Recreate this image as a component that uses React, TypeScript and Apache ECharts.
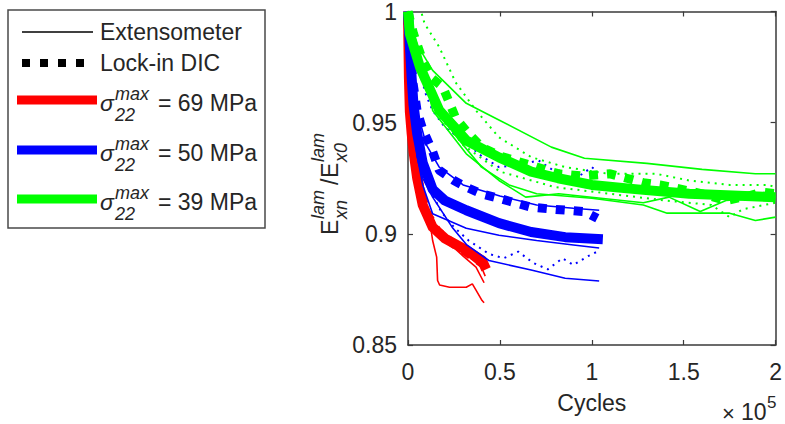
import React, { useEffect, useRef } from "react";
import * as echarts from "echarts";

// ---------- data (x in cycles, y = E_xn/E_x0) ----------
const xTicks = [0, 50000, 100000, 150000, 200000];
const yTicks = [0.85, 0.9, 0.95, 1];

// 69 MPa (red)
const redExtA = [[0, 1], [1500, 0.96], [4000, 0.935], [6500, 0.918], [11800, 0.906], [13400, 0.897], [15600, 0.8895], [16100, 0.879], [17200, 0.877], [22600, 0.876], [31700, 0.876], [35000, 0.8775], [37000, 0.8747], [40300, 0.87], [41400, 0.869]];
const redExtB = [[0, 0.995], [1500, 0.955], [4000, 0.932], [6500, 0.918], [10000, 0.91], [15000, 0.902], [22000, 0.896], [30000, 0.89], [37000, 0.885], [41400, 0.878]];
const redExtC = [[0, 0.99], [1000, 0.96], [3000, 0.94], [6000, 0.922], [9000, 0.91], [14000, 0.903], [20000, 0.9], [27000, 0.895], [34000, 0.889], [40000, 0.885], [42000, 0.881]];
const redThick = [[0, 1], [500, 0.97], [1000, 0.955], [2000, 0.945], [3000, 0.937], [5000, 0.925], [8000, 0.913], [13400, 0.903], [20000, 0.898], [31700, 0.8927], [40300, 0.888], [42500, 0.884]];
const redThickDic = [[0, 0.998], [800, 0.965], [2000, 0.947], [4000, 0.932], [7000, 0.918], [11000, 0.908], [16000, 0.901], [24000, 0.896], [33000, 0.891], [40000, 0.887], [42000, 0.8855]];

// 50 MPa (blue)
const blueExtA = [[0, 1], [2000, 0.97], [5000, 0.955], [10000, 0.94], [17000, 0.93], [30000, 0.922], [50000, 0.917], [70000, 0.913], [90000, 0.9115], [104000, 0.9106]];
const blueExtB = [[0, 0.99], [2000, 0.96], [5000, 0.935], [8000, 0.922], [13400, 0.909], [31700, 0.9025], [49500, 0.8994], [70000, 0.897], [90000, 0.895], [104000, 0.8936]];
const blueExtC = [[0, 0.98], [2000, 0.955], [5000, 0.935], [8000, 0.925], [13400, 0.9165], [24000, 0.903], [32000, 0.895], [44000, 0.888], [67000, 0.8837], [85500, 0.88], [104000, 0.8788]];
const blueDicA = [[0, 0.98], [3000, 0.975], [6500, 0.972], [10000, 0.962], [13400, 0.9555], [20000, 0.948], [31700, 0.9407], [40000, 0.935], [49500, 0.93], [60000, 0.931], [71000, 0.933], [80000, 0.928], [88700, 0.924], [95000, 0.927], [100000, 0.93], [103000, 0.928]];
const blueDicB = [[0, 0.985], [3000, 0.955], [7000, 0.935], [12000, 0.92], [18000, 0.91], [25000, 0.903], [33000, 0.897], [44000, 0.891], [52000, 0.889], [60000, 0.892], [68000, 0.887], [76000, 0.884], [84000, 0.889], [90000, 0.886], [98000, 0.89], [103000, 0.892]];
const blueThick = [[0, 1], [1000, 0.985], [2000, 0.97], [3000, 0.958], [5000, 0.945], [8000, 0.932], [13400, 0.92], [20000, 0.915], [31700, 0.9106], [49500, 0.9048], [67000, 0.9008], [85500, 0.8985], [106000, 0.8976]];
const blueThickDic = [[0, 1], [1000, 0.985], [2700, 0.968], [5000, 0.955], [8000, 0.947], [13400, 0.937], [17000, 0.9286], [25000, 0.924], [31700, 0.921], [40000, 0.918], [49500, 0.916], [58000, 0.914], [67000, 0.912], [80000, 0.911], [96000, 0.91], [103000, 0.907]];

// 39 MPa (green)
const greenExtA = [[0, 0.998], [5000, 0.985], [13400, 0.9735], [31700, 0.9587], [50000, 0.951], [78000, 0.939], [96000, 0.934], [130000, 0.9317], [160000, 0.929], [189000, 0.927], [200000, 0.927]];
const greenExtB = [[0, 1], [3000, 0.99], [8000, 0.975], [13400, 0.9555], [31700, 0.936], [49500, 0.924], [64000, 0.9165], [82000, 0.918], [128000, 0.914], [142000, 0.9165], [159000, 0.91], [173000, 0.915], [200000, 0.9165]];
const greenExtC = [[0, 1], [5000, 0.98], [13400, 0.96], [25000, 0.945], [40000, 0.93], [55000, 0.922], [70000, 0.918], [100000, 0.916], [128000, 0.913], [141000, 0.9093], [175000, 0.9093], [189000, 0.906], [200000, 0.9075]];
const greenDicA = [[7500, 0.999], [9000, 0.9946], [17000, 0.984], [26000, 0.968], [37000, 0.9555], [49500, 0.9434], [67000, 0.9345], [85500, 0.93], [109000, 0.927], [135000, 0.927], [153000, 0.924], [175000, 0.922], [196000, 0.922], [200000, 0.921]];
const greenDicB = [[0, 1], [5000, 0.975], [15000, 0.955], [30000, 0.94], [50000, 0.928], [80000, 0.921], [110000, 0.918], [140000, 0.915], [165000, 0.913], [175000, 0.9075], [182000, 0.911], [200000, 0.914]];
const greenThick = [[0, 1], [1000, 0.99], [6500, 0.975], [17000, 0.9556], [31700, 0.942], [49500, 0.9344], [67000, 0.928], [81700, 0.925], [100000, 0.922], [125000, 0.92], [153000, 0.918], [200000, 0.9165]];
const greenThickDic = [[0, 1], [3000, 0.99], [8000, 0.978], [13000, 0.97], [19000, 0.966], [26000, 0.952], [33000, 0.945], [40000, 0.939], [50000, 0.935], [58000, 0.933], [70000, 0.93], [82000, 0.927], [95000, 0.926], [110000, 0.927], [119000, 0.925], [128000, 0.923], [137000, 0.922], [146000, 0.9205], [160000, 0.918], [173000, 0.915], [185000, 0.917], [193000, 0.9187], [200000, 0.918]];

const legendStress = ["69", "50", "39"];
const RED = "#ff0000";
const BLUE = "#0000ff";
const GREEN = "#00ff00";
const stressColors = [RED, BLUE, GREEN];

const FONT = "'Liberation Sans', Arial, Helvetica, sans-serif";
const TXT = "#262626";
const AX = "#3a3a3a";

function thin(data: number[][], color: string) {
  return { type: "line", data, showSymbol: false, symbol: "none", lineStyle: { color, width: 1.6 }, silent: true };
}
function dotted(data: number[][], color: string) {
  return { type: "line", data, showSymbol: false, symbol: "none", lineStyle: { color, width: 2, type: [2, 5], cap: "butt" }, silent: true };
}
function thick(data: number[][], color: string) {
  return { type: "line", data, showSymbol: false, symbol: "none", lineStyle: { color, width: 10, join: "round" }, silent: true };
}
function thickDic(data: number[][], color: string) {
  return { type: "line", data, showSymbol: false, symbol: "none", lineStyle: { color, width: 9, type: [9, 9], cap: "butt" }, silent: true };
}

function txt(text: string, x: number, y: number, size: number, italic = false, align = "left") {
  return {
    type: "text",
    x,
    y,
    style: { text, fontSize: size, fontFamily: FONT, fontStyle: italic ? "italic" : "normal", fill: TXT, align, verticalAlign: "middle" },
    silent: true,
  };
}

export default function App() {
  const ref = useRef<HTMLDivElement>(null);
  useEffect(() => {
    if (!ref.current) return;
    const chart = echarts.init(ref.current, null, { renderer: "svg" });

    const legendChildren: any[] = [
      { type: "rect", shape: { x: 8, y: 10, width: 257, height: 218 }, style: { fill: "#fff", stroke: "#4a4a4a", lineWidth: 1.5 }, silent: true },
      { type: "line", shape: { x1: 22, y1: 32, x2: 93, y2: 32 }, style: { stroke: "#000", lineWidth: 1.6 }, silent: true },
      txt("Extensometer", 100, 32, 23),
      txt("Lock-in DIC", 100, 63, 23),
    ];
    [22, 40, 58, 76].forEach((sx) => {
      legendChildren.push({ type: "rect", shape: { x: sx, y: 59, width: 8, height: 8 }, style: { fill: "#000" }, silent: true });
    });
    const rows = [100, 150, 199];
    rows.forEach((ry, i) => {
      legendChildren.push({ type: "line", shape: { x1: 17, y1: ry, x2: 97, y2: ry }, style: { stroke: stressColors[i], lineWidth: 9 }, silent: true });
      legendChildren.push(txt("σ", 100, ry + 3, 23, true));
      legendChildren.push(txt("max", 115, ry - 6, 18, true));
      legendChildren.push(txt("22", 115, ry + 14.5, 18, true));
      legendChildren.push(txt("= " + legendStress[i] + " MPa", 158, ry + 3, 23));
    });

    const yLabel = {
      type: "group",
      x: 338,
      y: 235,
      rotation: Math.PI / 2,
      children: [
        txt("E", 0, -8, 23),
        txt("lam", 16, -20, 18, true),
        txt("xn", 16, 3, 18, true),
        txt("/", 50, -8, 23),
        txt("E", 57, -8, 23),
        txt("lam", 73, -20, 18, true),
        txt("x0", 73, 3, 18, true),
      ],
    };

    const option: any = {
      animation: false,
      backgroundColor: "#ffffff",
      grid: { left: 408, right: 5, top: 11, bottom: 79, containLabel: false },
      xAxis: [
        {
          type: "value",
          position: "bottom",
          min: xTicks[0],
          max: xTicks[xTicks.length - 1],
          interval: 50000,
          name: "Cycles",
          nameLocation: "middle",
          nameGap: 46,
          nameTextStyle: { fontSize: 23, fontFamily: FONT, color: TXT },
          axisLine: { show: true, onZero: false, lineStyle: { color: AX, width: 1.5 } },
          axisTick: { show: true, inside: true, length: 5, lineStyle: { color: AX, width: 1.2 } },
          axisLabel: { fontSize: 23, fontFamily: FONT, color: TXT, margin: 15, formatter: (v: number) => String(v / 100000) },
          splitLine: { show: false },
        },
        {
          type: "value",
          position: "top",
          min: xTicks[0],
          max: xTicks[xTicks.length - 1],
          interval: 50000,
          axisLine: { show: true, onZero: false, lineStyle: { color: AX, width: 1.5 } },
          axisTick: { show: true, inside: true, length: 5, lineStyle: { color: AX, width: 1.2 } },
          axisLabel: { show: false },
          splitLine: { show: false },
        },
      ],
      yAxis: [
        {
          type: "value",
          position: "left",
          min: yTicks[0],
          max: yTicks[yTicks.length - 1],
          interval: 0.05,
          axisLine: { show: true, onZero: false, lineStyle: { color: AX, width: 1.5 } },
          axisTick: { show: true, inside: true, length: 5, lineStyle: { color: AX, width: 1.2 } },
          axisLabel: { fontSize: 23, fontFamily: FONT, color: TXT, margin: 11, formatter: (v: number) => String(Math.round(v * 100) / 100) },
          splitLine: { show: false },
        },
        {
          type: "value",
          position: "right",
          min: yTicks[0],
          max: yTicks[yTicks.length - 1],
          interval: 0.05,
          axisLine: { show: true, onZero: false, lineStyle: { color: AX, width: 1.5 } },
          axisTick: { show: true, inside: true, length: 5, lineStyle: { color: AX, width: 1.2 } },
          axisLabel: { show: false },
          splitLine: { show: false },
        },
      ],
      graphic: [
        ...legendChildren,
        yLabel,
        txt("×", 722, 413, 22),
        txt("10", 741, 412, 23),
        txt("5", 767, 402, 17),
      ],
      series: [
        thin(redExtA, RED),
        thin(redExtB, RED),
        thin(redExtC, RED),
        thick(redThick, RED),
        thickDic(redThickDic, RED),
        thin(blueExtA, BLUE),
        thin(blueExtB, BLUE),
        thin(blueExtC, BLUE),
        dotted(blueDicA, BLUE),
        dotted(blueDicB, BLUE),
        thick(blueThick, BLUE),
        thickDic(blueThickDic, BLUE),
        thin(greenExtA, GREEN),
        thin(greenExtB, GREEN),
        thin(greenExtC, GREEN),
        dotted(greenDicA, GREEN),
        dotted(greenDicB, GREEN),
        thick(greenThick, GREEN),
        thickDic(greenThickDic, GREEN),
      ],
    };
    chart.setOption(option);
    return () => chart.dispose();
  }, []);
  return <div ref={ref} style={{ position: "fixed", left: 0, top: 0, width: 785, height: 424, background: "#fff" }} />;
}
